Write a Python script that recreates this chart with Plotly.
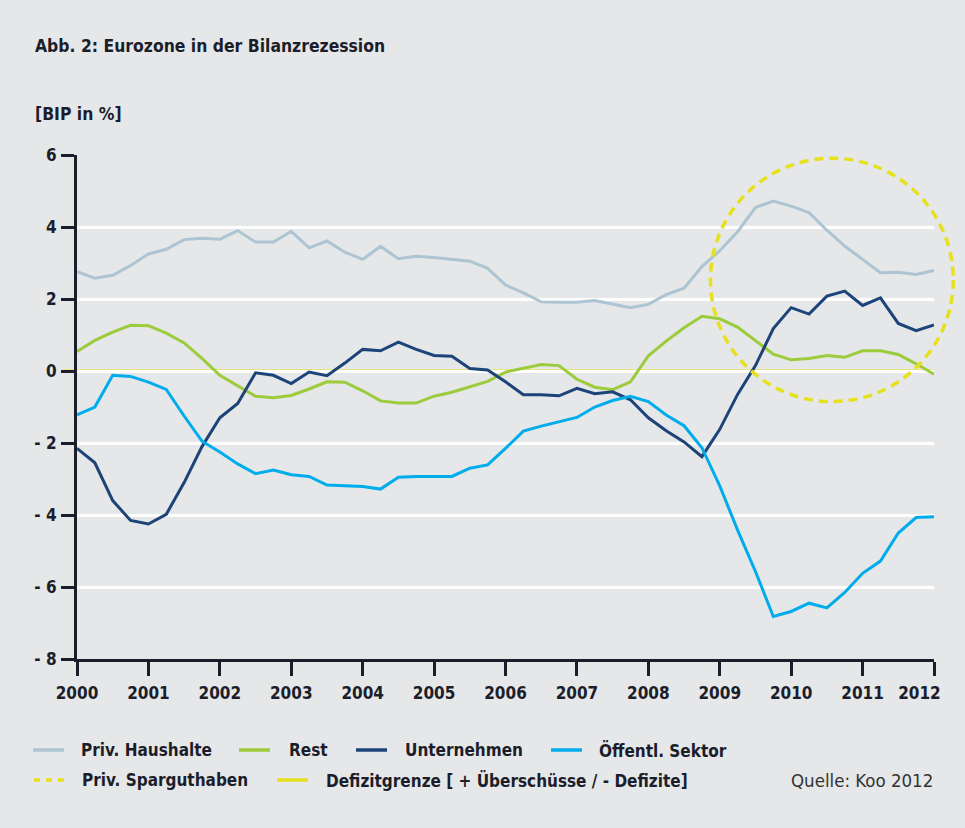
import plotly.graph_objects as go

# ---------------- data (quarterly, % of GDP) ----------------
quarters = [2000 + i / 4 for i in range(49)]

priv_haushalte = [2.76, 2.58, 2.66, 2.93, 3.25, 3.38, 3.65, 3.69, 3.66, 3.90, 3.58, 3.58,
                  3.88, 3.42, 3.61, 3.30, 3.10, 3.46, 3.12, 3.19, 3.15, 3.09, 3.05, 2.85,
                  2.39, 2.17, 1.92, 1.91, 1.91, 1.96, 1.86, 1.76, 1.85, 2.12, 2.30, 2.90,
                  3.34, 3.87, 4.54, 4.72, 4.58, 4.40, 3.91, 3.47, 3.10, 2.73, 2.74, 2.68, 2.79]

rest = [0.54, 0.85, 1.08, 1.27, 1.26, 1.05, 0.78, 0.35, -0.12, -0.41, -0.70, -0.74,
        -0.68, -0.50, -0.30, -0.31, -0.55, -0.83, -0.89, -0.89, -0.70, -0.59, -0.45, -0.29,
        -0.03, 0.07, 0.18, 0.15, -0.23, -0.45, -0.52, -0.30, 0.42, 0.83, 1.20, 1.52,
        1.45, 1.22, 0.85, 0.47, 0.31, 0.35, 0.43, 0.38, 0.56, 0.56, 0.46, 0.20, -0.09]

unternehmen = [-2.15, -2.55, -3.60, -4.15, -4.25, -3.98, -3.10, -2.10, -1.30, -0.90, -0.05, -0.12,
               -0.35, -0.03, -0.13, 0.22, 0.60, 0.56, 0.80, 0.60, 0.43, 0.41, 0.07, 0.03,
               -0.30, -0.66, -0.66, -0.69, -0.48, -0.63, -0.58, -0.80, -1.30, -1.66, -1.97, -2.38,
               -1.62, -0.65, 0.15, 1.18, 1.76, 1.58, 2.08, 2.22, 1.82, 2.03, 1.32, 1.12, 1.28]

oeffentl_sektor = [-1.22, -1.00, -0.12, -0.15, -0.31, -0.51, -1.25, -1.95, -2.25, -2.58, -2.85, -2.75,
                   -2.88, -2.93, -3.17, -3.20, -3.21, -3.28, -2.95, -2.93, -2.93, -2.93, -2.70, -2.61,
                   -2.15, -1.67, -1.53, -1.40, -1.29, -1.00, -0.82, -0.70, -0.85, -1.22, -1.52, -2.13,
                   -3.19, -4.42, -5.57, -6.82, -6.68, -6.45, -6.58, -6.15, -5.62, -5.28, -4.50, -4.07, -4.05]

defizitgrenze = 0

# circle "Priv. Sparguthaben": centre (year, value) and radii
circle_center = (2010.57, 2.53)
circle_radius_years = 1.70
circle_radius_values = 3.38

x_ticks = list(range(2000, 2013))
x_ticklabels = [str(y) for y in x_ticks]
y_ticks = [6, 4, 2, 0, -2, -4, -6, -8]
y_ticklabels = ["6", "4", "2", "0", "- 2", "- 4", "- 6", "- 8"]

series_names = ["Priv. Haushalte", "Rest", "Unternehmen", "Öffentl. Sektor"]
series_values = [priv_haushalte, rest, unternehmen, oeffentl_sektor]

# ---------------- styles ----------------
BG = "#e6e7e9"
DARK = "#1b1e2a"
YELLOW = "#e6e11c"
colors = ["#adc5d2", "#9ccb3b", "#1c4479", "#00adec"]
FONT = "Liberation Sans Narrow, DejaVu Sans Condensed, Arial Narrow, sans-serif"

W, H = 965, 828
L, R, T, B = 77, 31, 155, 169
PW, PH = W - L - R, H - T - B
XR = (2000, 2012)
YR = (-8, 6)


def px(x):
    return (x - L) / PW


def py(y):
    return (H - B - y) / PH


def dx(v):
    return (v - XR[0]) / (XR[1] - XR[0])


def dy(v):
    return (v - YR[0]) / (YR[1] - YR[0])


fig = go.Figure()
for name, vals, col in zip(series_names, series_values, colors):
    fig.add_trace(go.Scatter(x=quarters, y=vals, mode="lines", name=name,
                             line=dict(color=col, width=3), showlegend=False))

shapes = []
# zero line (Defizitgrenze)
shapes.append(dict(type="line", xref="paper", yref="paper", x0=px(64), x1=1,
                   y0=dy(defizitgrenze), y1=dy(defizitgrenze),
                   line=dict(color=YELLOW, width=3), layer="below"))
# dashed circle
cx, cy = circle_center
shapes.append(dict(type="circle", xref="paper", yref="paper",
                   x0=dx(cx - circle_radius_years), x1=dx(cx + circle_radius_years),
                   y0=dy(cy - circle_radius_values), y1=dy(cy + circle_radius_values),
                   line=dict(color=YELLOW, width=3.5, dash="9px,6px"), layer="above"))

annotations = []
annotations.append(dict(text="<b>Abb. 2: Eurozone in der Bilanzrezession</b>", xref="paper", yref="paper",
                        x=px(33), y=py(46), xanchor="left", yanchor="middle", showarrow=False,
                        font=dict(family=FONT, size=17.4, color=DARK)))
annotations.append(dict(text="<b>[BIP in %]</b>", xref="paper", yref="paper",
                        x=px(33), y=py(114), xanchor="left", yanchor="middle", showarrow=False,
                        font=dict(family=FONT, size=17.4, color=DARK)))

# manual legend
legend_items = [
    ("Priv. Haushalte", colors[0], "solid", 33, 79, 750),
    ("Rest", colors[1], "solid", 239, 287, 750),
    ("Unternehmen", colors[2], "solid", 356, 403, 750),
    ("Öffentl. Sektor", colors[3], "solid", 551, 597, 750),
    ("Priv. Sparguthaben", YELLOW, "6px,6px", 34, 80, 780),
    ("Defizitgrenze [ + Überschüsse / - Defizite]", YELLOW, "solid", 277, 324, 780),
]
for text, col, dash, sx, tx, yy in legend_items:
    shapes.append(dict(type="line", xref="paper", yref="paper", x0=px(sx), x1=px(sx + 31),
                       y0=py(yy), y1=py(yy), line=dict(color=col, width=3.5, dash=dash)))
    annotations.append(dict(text="<b>" + text + "</b>", xref="paper", yref="paper",
                            x=px(tx), y=py(yy), xanchor="left", yanchor="middle", showarrow=False,
                            font=dict(family=FONT, size=17, color=DARK)))
annotations.append(dict(text="Quelle: Koo 2012", xref="paper", yref="paper",
                        x=px(935), y=py(780), xanchor="right", yanchor="middle", showarrow=False,
                        font=dict(family=FONT, size=18.5, color="#333333")))

# last year label sits left of the axis end in the original
x_ticktext = ["<b>%s</b>" % t for t in x_ticklabels]
x_ticktext[-1] = x_ticktext[-1] + "\u00a0" * 6

fig.update_layout(
    width=W, height=H,
    margin=dict(l=L, r=R, t=T, b=B, pad=0, autoexpand=False),
    paper_bgcolor=BG, plot_bgcolor=BG,
    shapes=shapes, annotations=annotations,
    showlegend=False,
    xaxis=dict(range=list(XR), tickvals=x_ticks, ticktext=x_ticktext,
               showgrid=False, zeroline=False, showline=True, linecolor=DARK, linewidth=3,
               ticks="outside", ticklen=14, tickwidth=3, tickcolor=DARK, ticklabelstandoff=3,
               ticklabeloverflow="allow", automargin=False,
               tickfont=dict(family=FONT, size=17, color=DARK), fixedrange=True),
    yaxis=dict(range=list(YR), tickvals=y_ticks, ticktext=["<b>%s</b>" % t for t in y_ticklabels],
               showgrid=True, gridcolor="white", gridwidth=3, zeroline=False,
               showline=True, linecolor=DARK, linewidth=3, automargin=False,
               ticks="outside", ticklen=13, tickwidth=3, tickcolor=DARK, ticklabelstandoff=1,
               tickfont=dict(family=FONT, size=17, color=DARK), fixedrange=True),
)

fig.write_html("out.html", config={"displayModeBar": False},
               post_script="document.body.style.margin='0';document.body.style.overflow='hidden';")
